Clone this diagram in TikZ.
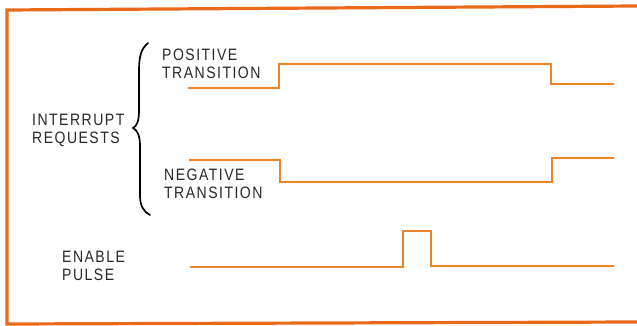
\documentclass[tikz,border=0pt]{standalone}
\usepackage{fontspec}
\newfontfamily\lab[FakeStretch=0.85,LetterSpace=9]{Liberation Sans}
\definecolor{frameor}{RGB}{234,106,28}
\definecolor{waveor}{RGB}{236,132,42}
\definecolor{ink}{RGB}{40,40,40}
\begin{document}
\begin{tikzpicture}[x=1pt,y=-1pt,
  frame/.style={draw=frameor,line width=3.2pt},
  wave/.style={draw=waveor,line width=2.2pt,line join=miter},
  lbl/.style={anchor=north west,inner sep=0pt,text=ink,align=left,
    font=\lab\fontsize{16.5}{17.5}\selectfont},
  brc/.style={draw=black,line width=1.7pt,line cap=round}]
\useasboundingbox (0,0) rectangle (637,326);
% frame
\coordinate (f1) at (637,6);
\coordinate (f2) at (7,10);
\coordinate (f3) at (7,324);
\coordinate (f4) at (637,322);
\draw[frame] (f1) -- (f2) -- (f3) -- (f4);
% positive transition
\coordinate (p0) at (188,88);
\coordinate (p1) at (614,84);
\draw[wave] (p0) -- (279,88) -- (279,64) -- (551,64) -- (551,84) -- (p1);
% negative transition
\coordinate (n0) at (189,160);
\coordinate (n1) at (614,158);
\draw[wave] (n0) -- (280,160) -- (280,182) -- (552,182) -- (552,158) -- (n1);
% enable pulse
\coordinate (e0) at (190,267);
\coordinate (e1) at (614,266);
\draw[wave] (e0) -- (403,267) -- (403,231) -- (431,231) -- (431,266) -- (e1);
% brace
\coordinate (bt) at (148,43);
\coordinate (bb) at (150,215);
\draw[brc] (bt) .. controls (141,49) and (139,56) .. (139,72) -- (139,110)
  .. controls (139,121) and (137,126) .. (133,128)
  .. controls (137,130) and (140,135) .. (140,146) -- (140,196)
  .. controls (140,206) and (144,212) .. (bb);
% labels
\node[lbl] (pos) at (162,49) {POSITIVE\\TRANSITION};
\node[lbl] (neg) at (164,169) {NEGATIVE\\TRANSITION};
\node[lbl] (irq) at (32,114) {INTERRUPT\\REQUESTS};
\node[lbl] (en) at (62,251) {ENABLE\\PULSE};
\end{tikzpicture}
\end{document}
